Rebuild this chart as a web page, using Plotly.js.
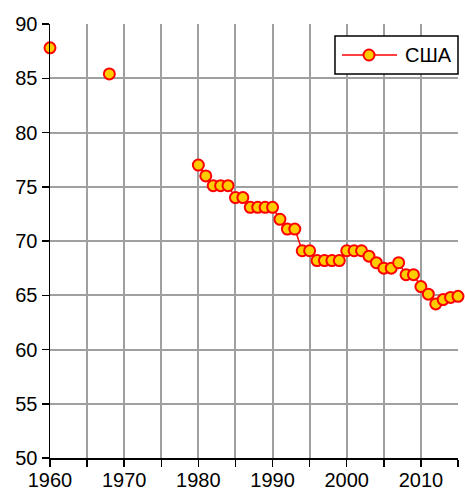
<!DOCTYPE html>
<html><head><meta charset="utf-8">
<script src="https://cdn.plot.ly/plotly-3.0.1.min.js"></script>
<style>html,body{margin:0;padding:0;background:#fff}#chart{width:465px;height:491px}</style>
</head><body><div id="chart"></div>
<script>
const seriesName = "США";
const years = [1960,1961,1962,1963,1964,1965,1966,1967,1968,1969,1970,1971,1972,1973,1974,1975,1976,1977,1978,1979,
  1980,1981,1982,1983,1984,1985,1986,1987,1988,1989,1990,1991,1992,1993,1994,1995,1996,1997,1998,1999,
  2000,2001,2002,2003,2004,2005,2006,2007,2008,2009,2010,2011,2012,2013,2014,2015];
const values = [87.8,null,null,null,null,null,null,null,85.4,null,null,null,null,null,null,null,null,null,null,null,
  77.0,76.0,75.1,75.1,75.1,74.0,74.0,73.1,73.1,73.1,73.1,72.0,71.1,71.1,69.1,69.1,68.2,68.2,68.2,68.2,
  69.1,69.1,69.1,68.6,68.0,67.5,67.5,68.0,66.9,66.9,65.8,65.1,64.2,64.6,64.8,64.9];
const xTickVals = [1960,1970,1980,1990,2000,2010];
const yTickVals = [50,55,60,65,70,75,80,85,90];

const lineColor = '#ff0000', markerFill = '#ffcc00';
const trace = {
  x: years, y: values, type: 'scatter', mode: 'lines+markers', name: seriesName,
  connectgaps: false, cliponaxis: false, showlegend: false,
  line: {color: lineColor, width: 1.5},
  marker: {size: 11, color: markerFill, line: {color: lineColor, width: 2}}
};
const font = {family: 'Liberation Sans, Arial, sans-serif', size: 20, color: '#000'};
const gridColor = '#a0a0a0';
// custom legend box (paper coordinates)
const legY = 0.9286;
const shapes = [
  {type: 'rect', xref: 'paper', yref: 'paper', x0: 0.6985, x1: 1.0, y0: 0.8848, y1: 0.9724,
   line: {color: '#000', width: 1.5}, fillcolor: '#fff', layer: 'above'},
  {type: 'line', xref: 'paper', yref: 'paper', x0: 0.7157, x1: 0.8505, y0: legY, y1: legY,
   line: {color: lineColor, width: 1.5}, layer: 'above'},
  {type: 'circle', xref: 'paper', yref: 'paper', xsizemode: 'pixel', ysizemode: 'pixel',
   xanchor: 0.7819, yanchor: legY, x0: -5.5, x1: 5.5, y0: -5.5, y1: 5.5,
   line: {color: lineColor, width: 2}, fillcolor: markerFill, layer: 'above'}
];
const annotations = [
  {xref: 'paper', yref: 'paper', x: 0.8652, y: legY, xanchor: 'left', yanchor: 'middle',
   text: seriesName, showarrow: false, font: font}
];
const layout = {
  width: 465, height: 491,
  margin: {l: 50, r: 7, t: 24, b: 33},
  paper_bgcolor: '#fff', plot_bgcolor: '#fff',
  font: font, showlegend: false, shapes: shapes, annotations: annotations,
  xaxis: {range: [1960, 2015], tickvals: xTickVals, ticks: 'outside', ticklen: 7, tickcolor: '#000', tickwidth: 1.5,
    ticklabelstandoff: -4,
    showgrid: true, gridcolor: gridColor, gridwidth: 2,
    minor: {dtick: 5, tick0: 1960, ticks: 'outside', ticklen: 7, tickcolor: '#000', showgrid: true, gridcolor: gridColor, gridwidth: 2},
    showline: true, linecolor: '#000', linewidth: 1.5, zeroline: false, fixedrange: true},
  yaxis: {range: [50, 90], tickvals: yTickVals, ticks: 'outside', ticklen: 7, tickcolor: '#000', tickwidth: 1.5,
    showgrid: true, gridcolor: gridColor, gridwidth: 2,
    showline: true, linecolor: '#000', linewidth: 1.5, zeroline: false, fixedrange: true}
};
Plotly.newPlot('chart', [trace], layout, {displayModeBar: false, staticPlot: true});
</script></body></html>
